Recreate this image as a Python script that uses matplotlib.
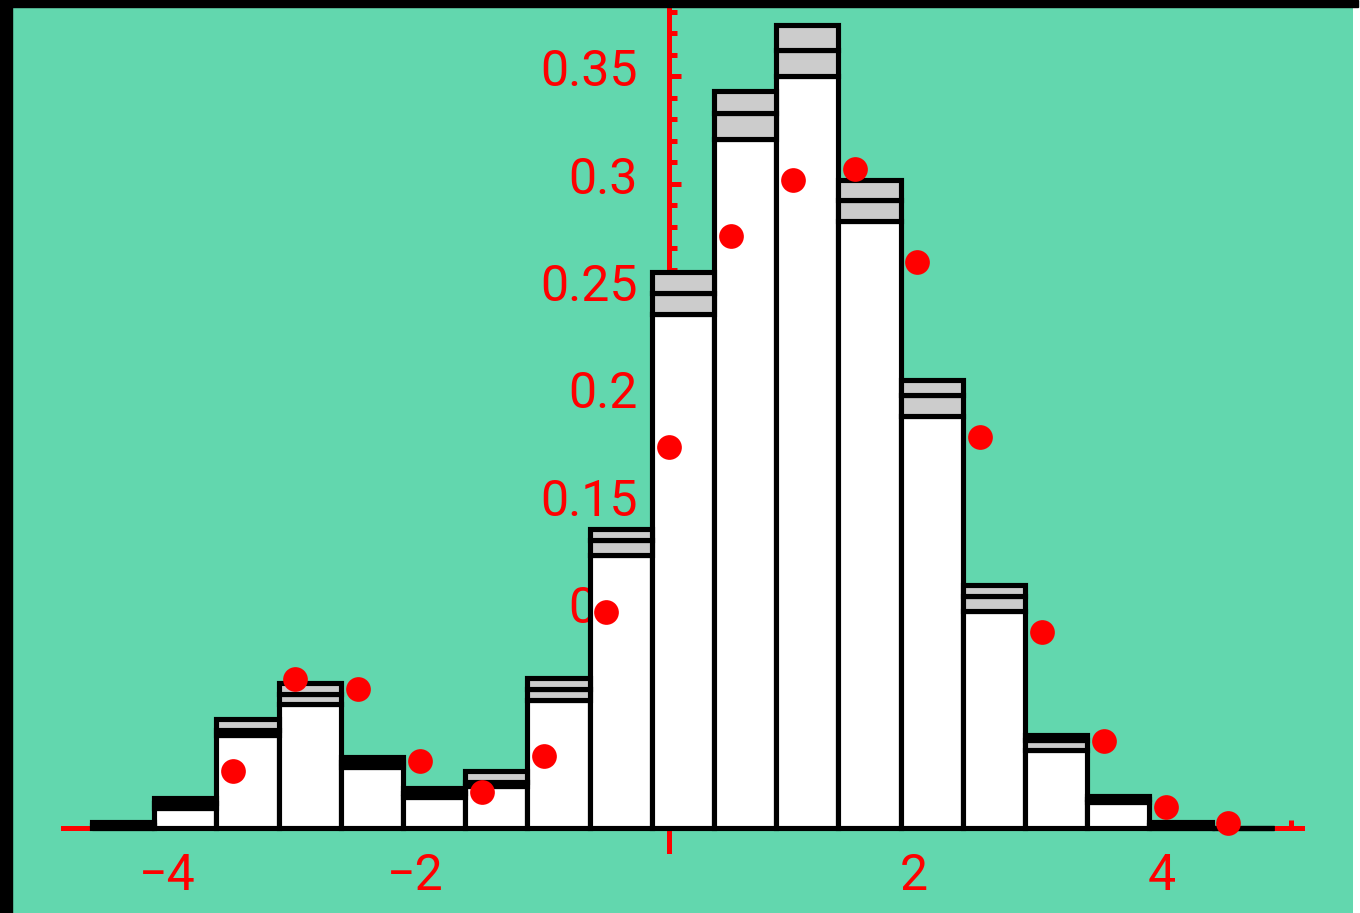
import numpy as np
import matplotlib
matplotlib.use("Agg")
import matplotlib.pyplot as plt
from matplotlib.patches import Rectangle
from matplotlib.ticker import FixedLocator

# histogram bins (width 0.5), three stacked layers per bin
bin_centers = [-4.385, -3.885, -3.385, -2.885, -2.385, -1.885, -1.385, -0.885, -0.385,
               0.115, 0.615, 1.115, 1.615, 2.115, 2.615, 3.115, 3.615, 4.115, 4.615]
white_part = [0.0, 0.0095, 0.0431, 0.0575, 0.0286, 0.0142, 0.0193, 0.0598, 0.1269,
              0.2395, 0.3210, 0.3499, 0.2828, 0.1916, 0.1008, 0.0361, 0.0119, 0.0, 0.0]
grey_low = [0.0013, 0.0023, 0.0023, 0.0047, 0.0023, 0.0023, 0.0023, 0.0049, 0.0074,
            0.0098, 0.0121, 0.0121, 0.0095, 0.0098, 0.0070, 0.0047, 0.0014, 0.0013, 0.0]
grey_high = [0.0013, 0.0023, 0.0051, 0.0051, 0.0023, 0.0023, 0.0047, 0.0049, 0.0047,
             0.0095, 0.0098, 0.0119, 0.0095, 0.0070, 0.0051, 0.0023, 0.0014, 0.0013, 0.0]

# red points
dot_x = [-3.5, -3.0, -2.5, -2.0, -1.5, -1.0, -0.5, 0.0, 0.5, 1.0, 1.5, 2.0, 2.5, 3.0,
         3.5, 4.0, 4.5]
dot_y = [0.0265, 0.0694, 0.0647, 0.0312, 0.0168, 0.0335, 0.1006, 0.1774, 0.2756,
         0.3019, 0.3068, 0.2635, 0.1820, 0.0912, 0.0407, 0.0098, 0.0023]

y_labels = ["0.05", "0.1", "0.15", "0.2", "0.25", "0.3", "0.35"]
y_label_pos = [0.05, 0.1, 0.15, 0.2, 0.25, 0.3, 0.35]
x_labels = ["\u22124", "\u22122", "2", "4"]
x_label_pos = [-4, -2, 2, 4]

teal = "#62d7ae"
red = "#ff0000"
lw = 3.7
font = ["Roboto", "DejaVu Sans"]

fig = plt.figure(figsize=(13.6, 9.13), dpi=100)
fig.patch.set_facecolor("white")
ax = fig.add_axes([0, 0, 1353 / 1360, 1])
ax.set_facecolor(teal)
ax.set_xlim(-5.374, 5.502)
ax.set_ylim(-0.0396, 0.3855)

white_part = np.array(white_part)
grey_low = np.array(grey_low)
grey_high = np.array(grey_high)

ax.bar(bin_centers, white_part, width=0.5, color="white", edgecolor="black",
       linewidth=lw, zorder=3)
ax.bar(bin_centers, grey_low, width=0.5, bottom=white_part, color="#cccccc",
       edgecolor="black", linewidth=lw, zorder=3)
ax.bar(bin_centers, grey_high, width=0.5, bottom=white_part + grey_low,
       color="#cccccc", edgecolor="black", linewidth=lw, zorder=3)

ax.plot(dot_x, dot_y, "o", color=red, markersize=17.8, markeredgewidth=0, zorder=5)

# axes through the origin, drawn behind the bars
for s in ["top", "right"]:
    ax.spines[s].set_visible(False)
ax.spines["left"].set_position(("data", 0))
ax.spines["bottom"].set_position(("data", 0))
ax.spines["left"].set_bounds(-0.0105, 0.39)
ax.spines["bottom"].set_bounds(-4.867, 5.092)
for s in ["left", "bottom"]:
    ax.spines[s].set_color(red)
    ax.spines[s].set_linewidth(3.6)
    ax.spines[s].set_zorder(2)

ax.yaxis.set_major_locator(FixedLocator(y_label_pos))
minor_y = [v / 100 for v in range(1, 39) if v % 5 != 0]
ax.yaxis.set_minor_locator(FixedLocator(minor_y))
ax.xaxis.set_major_locator(FixedLocator([-4, -2, 2, 4, 5]))
ax.tick_params(axis="y", which="major", direction="in", length=8.3, width=3.6,
               color=red, labelleft=False)
ax.tick_params(axis="y", which="minor", direction="in", length=5.4, width=3.6,
               color=red)
ax.tick_params(axis="x", which="major", direction="in", length=5.8, width=3.6,
               color=red, labelbottom=False)

for lab, v in zip(y_labels, y_label_pos):
    ax.annotate(lab, xy=(0, v), xytext=(-31, -10), textcoords="offset pixels",
                ha="right", va="baseline", color=red, fontsize=36,
                family=font, zorder=2)
for lab, v in zip(x_labels, x_label_pos):
    ax.annotate(lab, xy=(v, 0), xytext=(-4, -62), textcoords="offset pixels",
                ha="center", va="baseline", color=red, fontsize=36,
                family=font, zorder=2)

# black frame strips on the left and top
fig.add_artist(Rectangle((0, 0), 12 / 1360, 1, transform=fig.transFigure,
                         color="black", zorder=10))
fig.add_artist(Rectangle((0, 1 - 7 / 913), 1358 / 1360, 7 / 913,
                         transform=fig.transFigure, color="black", zorder=10))

fig.savefig("out.png", dpi=100, facecolor=fig.get_facecolor())
